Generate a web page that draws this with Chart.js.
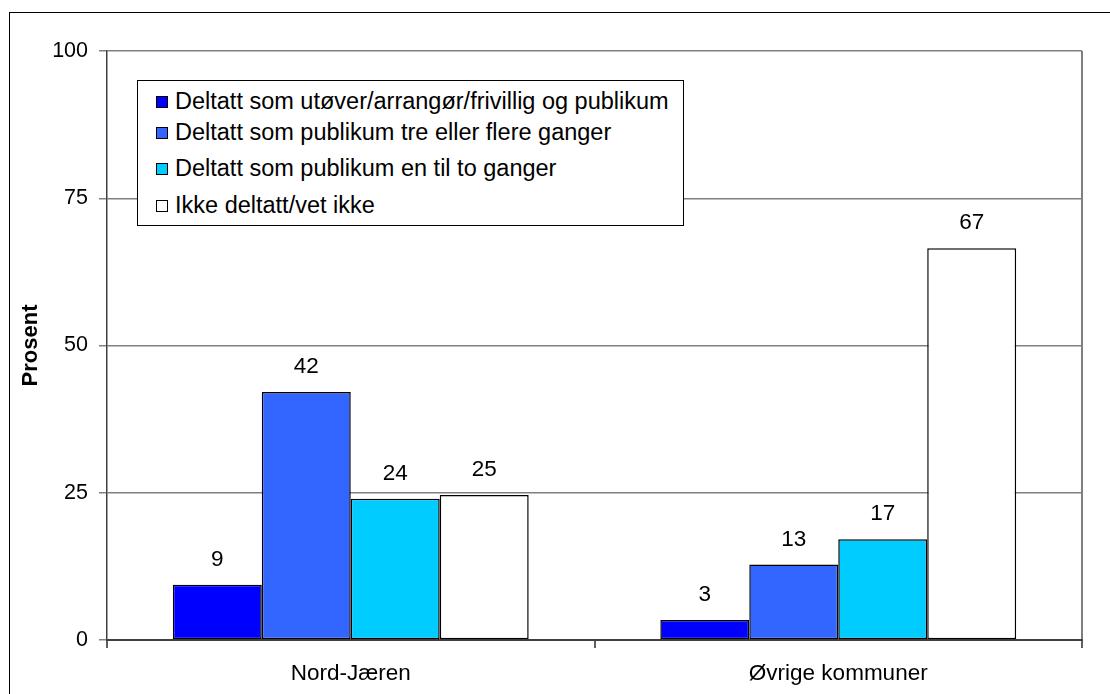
<!DOCTYPE html>
<html>
<head>
<meta charset="utf-8">
<script src="https://cdn.jsdelivr.net/npm/chart.js@4"></script>
<style>
  body { margin: 0; background: #fff; font-family: "Liberation Sans", Arial, sans-serif; }
  #wrap { position: relative; width: 1110px; height: 694px; overflow: hidden; }
  #frame { position: absolute; left: 9px; top: 12px; width: 1200px; height: 800px; border-left: 1px solid #000; border-top: 1px solid #000; }
  canvas { position: absolute; left: 0; top: 0; }
  #legend { position: absolute; left: 137px; top: 80px; width: 545px; height: 144px; background: #fff; border: 1px solid #000; }
  #legend div { position: absolute; left: 18px; font-size: 23.5px; line-height: 24px; color: #000; white-space: nowrap; }
  #legend span { display: inline-block; width: 10px; height: 10px; border: 1px solid #000; margin-right: 7px; vertical-align: 1px; }
</style>
</head>
<body>
<div id="wrap">
  <div id="frame"></div>
  <canvas id="chart" width="1110" height="694"></canvas>
  <div id="legend"></div>
</div>
<script>
const categories = ['Nord-Jæren', 'Øvrige kommuner'];
const seriesNames = [
  'Deltatt som utøver/arrangør/frivillig og publikum',
  'Deltatt som publikum tre eller flere ganger',
  'Deltatt som publikum en til to ganger',
  'Ikke deltatt/vet ikke'
];
const utover = [9.4, 3.4];
const publikumTreFlere = [42.1, 12.8];
const publikumEnTo = [24, 17.1];
const ikkeDeltatt = [24.6, 66.5];
const yTicks = [0, 25, 50, 75, 100];
const colors = ['#0000FF', '#3366FF', '#00CCFF', '#FFFFFF'];

const seriesValues = [utover, publikumTreFlere, publikumEnTo, ikkeDeltatt];
const FONT = '"Liberation Sans", Arial, sans-serif';

// legend sits inside the plot area, like the original
const legendEl = document.getElementById('legend');
const rowTops = [8, 39, 75, 112];
seriesNames.forEach((name, i) => {
  const row = document.createElement('div');
  row.style.top = rowTops[i] + 'px';
  const box = document.createElement('span');
  box.style.background = colors[i];
  row.appendChild(box);
  row.appendChild(document.createTextNode(name));
  legendEl.appendChild(row);
});

const valueLabels = {
  id: 'valueLabels',
  afterDatasetsDraw(chart) {
    const ctx = chart.ctx;
    ctx.save();
    ctx.font = '22.5px ' + FONT;
    ctx.fillStyle = '#000';
    ctx.textAlign = 'center';
    ctx.textBaseline = 'alphabetic';
    chart.data.datasets.forEach((ds, i) => {
      chart.getDatasetMeta(i).data.forEach((bar, j) => {
        ctx.fillText(Math.round(ds.data[j]), bar.x, bar.y - 19);
      });
    });
    ctx.restore();
  }
};

new Chart(document.getElementById('chart'), {
  type: 'bar',
  data: {
    labels: categories,
    datasets: seriesValues.map((vals, i) => ({
      label: seriesNames[i],
      data: vals,
      backgroundColor: colors[i],
      borderColor: '#000',
      borderWidth: 1.5,
      borderSkipped: false,
      categoryPercentage: 0.73,
      barPercentage: 1
    }))
  },
  options: {
    responsive: false,
    animation: false,
    layout: { padding: { left: 10, right: 28, top: 51, bottom: 0 } },
    plugins: { legend: { display: false }, tooltip: { enabled: false } },
    scales: {
      x: {
        offset: true,
        afterFit: s => { s.height = 54; },
        grid: {
          offset: true,
          color: c => c.type === 'scale' ? '#808080' : 'transparent',
          tickColor: '#606060',
          tickLength: 8,
          lineWidth: 2
        },
        border: { color: '#404040', width: 2 },
        ticks: { color: '#000', padding: 12, font: { family: FONT, size: 22.5 } }
      },
      y: {
        min: 0,
        max: 100,
        afterFit: s => { s.width = 97; },
        afterBuildTicks: s => { s.ticks = yTicks.map(v => ({ value: v })); },
        grid: { color: '#808080', tickColor: '#808080', tickLength: 8, lineWidth: 1.5 },
        border: { color: '#404040', width: 1.5 },
        ticks: { color: '#000', padding: 11, font: { family: FONT, size: 21.5 } },
        title: {
          display: true,
          text: 'Prosent',
          color: '#000',
          padding: { top: 8, bottom: 0 },
          font: { family: FONT, size: 22, weight: 'bold' }
        }
      }
    }
  },
  plugins: [valueLabels]
});
</script>
</body>
</html>
